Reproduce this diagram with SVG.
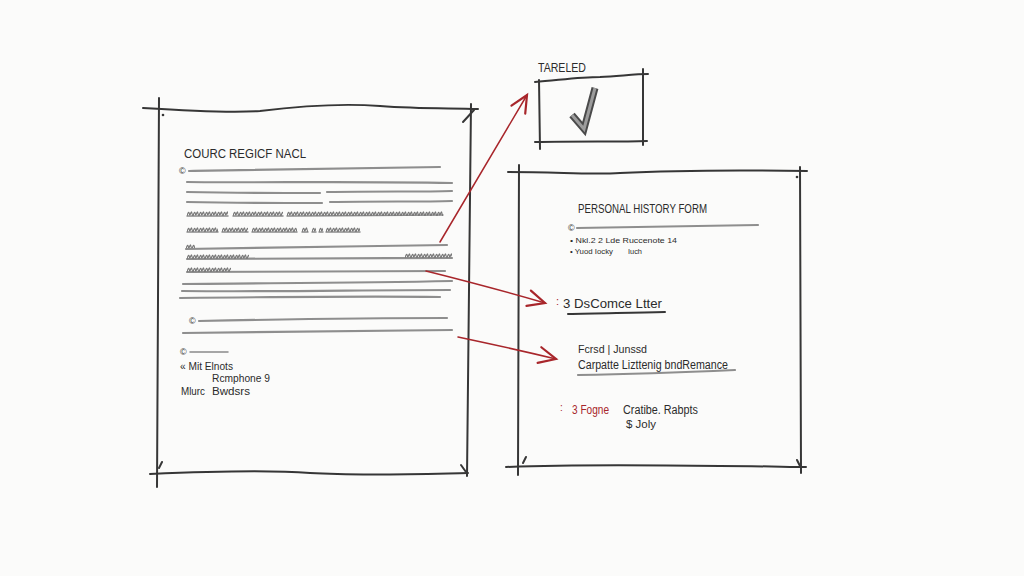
<svg xmlns="http://www.w3.org/2000/svg" width="1024" height="576" viewBox="0 0 1024 576">
<style>
.frame{fill:none;stroke:#363636;stroke-width:2;stroke-linecap:round;stroke-linejoin:round}
.rule{fill:none;stroke:#8e8e8e;stroke-width:2.2;stroke-linecap:round}
.thin{fill:none;stroke:#8a8a8a;stroke-width:1.5;stroke-linecap:round}
.red{fill:none;stroke:#a8262b;stroke-width:1.5;stroke-linecap:round}
.hand{font-family:"Liberation Sans","DejaVu Sans",sans-serif;fill:#2b2b2b}
.redt{font-family:"Liberation Sans","DejaVu Sans",sans-serif;fill:#a8262b}
.cur{fill:url(#cur)}
</style>
<defs>
<pattern id="cur" width="6" height="7" patternUnits="userSpaceOnUse">
<path d="M0 6 C1 2 2 1 2.5 4.5 C3 6.5 4 1 4.6 2 C5.2 4 5.6 6 6 6" fill="none" stroke="#777" stroke-width="1.1"/>
</pattern>
<marker id="chev" markerUnits="userSpaceOnUse" markerWidth="26" markerHeight="26" refX="21" refY="13" orient="auto" viewBox="0 0 26 26">
<path d="M4 5 L21 13 L4 21" fill="none" stroke="#a8262b" stroke-width="2.2" stroke-linecap="round" stroke-linejoin="miter"/>
</marker>
</defs>
<rect width="1024" height="576" fill="#fbfbfa"/>

<g id="course-record">
<path class="frame" d="M143 108 C190 111 230 113 260 111 C300 106 340 103 380 106 C420 109 450 108 478 109"/>
<path class="frame" d="M159 98 L158 300 L157 487"/>
<path class="frame" d="M471 104 C470 250 468 380 467 476"/>
<path class="frame" d="M463 122 L474 110"/>
<circle cx="163" cy="115" r="1.3" fill="#363636"/>
<path class="frame" d="M150 474 C220 471 270 470 310 473 C360 476 420 474 468 473"/>
<path class="frame" d="M159 468 L162 462"/>
<path class="frame" d="M461 465 L466 472"/>
<text class="hand" x="184" y="158" font-size="12" textLength="122" lengthAdjust="spacingAndGlyphs">COURC REGICF NACL</text>
<text class="hand" x="179" y="174" font-size="9" fill="#666">©</text>
<path class="rule" d="M189 171 C260 170 330 169 440 167"/>
<path class="rule" d="M187 182 C260 183 350 181 452 183"/>
<path class="rule" d="M187 192 C240 193 290 193 320 193 M327 192 C380 191 420 192 452 191"/>
<path class="rule" d="M187 202 C240 203 290 203 322 203 M330 202 C380 201 420 202 452 201"/>
<path class="thin" d="M187 216 L228 216 M233 216 L283 216 M287 216 C340 216 400 215 443 215"/>
<rect class="cur" transform="translate(187,210)" width="41" height="6"/>
<rect class="cur" transform="translate(233,210)" width="50" height="6"/>
<rect class="cur" transform="translate(287,210)" width="156" height="6"/>
<path class="thin" d="M187 232 L218 232 M222 232 L248 232 M252 232 L297 232 M302 232 L308 232 M312 232 L316 232 M319 232 L323 232 M326 232 L360 232"/>
<rect class="cur" transform="translate(187,226)" width="31" height="6"/>
<rect class="cur" transform="translate(222,226)" width="26" height="6"/>
<rect class="cur" transform="translate(252,226)" width="45" height="6"/>
<rect class="cur" transform="translate(302,226)" width="6" height="6"/>
<rect class="cur" transform="translate(312,226)" width="4" height="6"/>
<rect class="cur" transform="translate(319,226)" width="4" height="6"/>
<rect class="cur" transform="translate(326,226)" width="34" height="6"/>
<rect class="cur" transform="translate(186,243)" width="9" height="6"/>
<path class="rule" d="M186 249 C280 248 360 246 447 245"/>
<path class="rule" d="M187 259 C320 259 370 258 452 258"/>
<rect class="cur" transform="translate(187,253)" width="62" height="6"/>
<rect class="cur" transform="translate(405,252)" width="47" height="6"/>
<path class="rule" d="M187 272 C300 272 380 271 445 271"/>
<rect class="cur" transform="translate(187,266)" width="44" height="6"/>
<path class="rule" d="M183 284 C280 283 360 283 452 281"/>
<path class="rule" d="M182 291 C280 292 360 290 450 290"/>
<path class="rule" d="M180 298 C270 297 360 296 440 297"/>
<text class="hand" x="189" y="324" font-size="9" fill="#666">©</text>
<path class="rule" d="M199 321 C300 319 380 318 447 318"/>
<path class="rule" d="M183 333 C300 332 380 331 452 330"/>
<text class="hand" x="180" y="355" font-size="9" fill="#666">©</text>
<path class="thin" d="M190 352 L228 352"/>
<text class="hand" x="180" y="370" font-size="10" textLength="53" lengthAdjust="spacingAndGlyphs">« Mit Elnots</text>
<text class="hand" x="212" y="382" font-size="10" textLength="58" lengthAdjust="spacingAndGlyphs">Rcmphone 9</text>
<text class="hand" x="181" y="395" font-size="10" textLength="24" lengthAdjust="spacingAndGlyphs">Mlurc</text>
<text class="hand" x="212" y="395" font-size="10" textLength="38" lengthAdjust="spacingAndGlyphs">Bwdsrs</text>
</g>

<g id="tareled">
<text class="hand" x="538" y="72" font-size="13" textLength="48" lengthAdjust="spacingAndGlyphs">TARELED</text>
<path class="frame" d="M535 82 C560 80 580 77 600 77 C620 76 635 74 648 74"/>
<path class="frame" d="M539 80 L540 149"/>
<path class="frame" d="M643 69 L643 145"/>
<path class="frame" d="M535 142 C580 141 620 142 647 141"/>
<path d="M572 115 L584 129 L595 88" fill="none" stroke="#4a4a4a" stroke-width="7" stroke-linejoin="miter"/>
<path d="M572 115 L584 129 L595 88" fill="none" stroke="#9c9c9c" stroke-width="3" stroke-linejoin="miter"/>
</g>

<g id="personal-history-form">
<path class="frame" d="M508 172 C560 172 590 175 620 173 C680 170 740 170 807 171"/>
<path class="frame" d="M519 165 L518 475"/>
<path class="frame" d="M800 167 C801 300 800 400 801 473"/>
<path class="frame" d="M506 467 C580 464 650 465 720 466 C760 466 790 467 806 467"/>
<path class="frame" d="M523 463 L526 457"/>
<path class="frame" d="M797 460 L800 466"/>
<circle cx="797" cy="177" r="1.3" fill="#363636"/>
<text class="hand" x="578" y="213" font-size="13" textLength="129" lengthAdjust="spacingAndGlyphs">PERSONAL HISTORY FORM</text>
<text class="hand" x="568" y="231" font-size="9" fill="#555">©</text>
<path class="rule" d="M577 228 C650 227 710 226 758 225" stroke="#6e6e6e" stroke-width="1.8"/>
<text class="hand" x="570" y="243" font-size="7.5" textLength="107" lengthAdjust="spacingAndGlyphs">• Nkl.2 2 Lde Ruccenote 14</text>
<text class="hand" x="570" y="254" font-size="7.5" textLength="43" lengthAdjust="spacingAndGlyphs">• Yuod Iocky</text>
<text class="hand" x="628" y="254" font-size="7.5" textLength="14" lengthAdjust="spacingAndGlyphs">Iuch</text>
<text class="redt" x="556" y="305" font-size="11">:</text>
<text class="hand" x="563" y="308" font-size="13" textLength="99" lengthAdjust="spacingAndGlyphs">3 DsComce Ltter</text>
<path class="frame" d="M568 314 C600 313 630 313 665 312" stroke="#2f2f2f"/>
<text class="hand" x="578" y="353" font-size="11" textLength="69" lengthAdjust="spacingAndGlyphs">Fcrsd | Junssd</text>
<text class="hand" x="578" y="369" font-size="12" textLength="150" lengthAdjust="spacingAndGlyphs">Carpatte Lizttenig bndRemance</text>
<path class="rule" d="M578 375 C640 374 690 372 735 370" stroke="#6a6a6a" stroke-width="1.8"/>
<text class="redt" x="560" y="411" font-size="10">:</text>
<text class="redt" x="572" y="414" font-size="13" textLength="37" lengthAdjust="spacingAndGlyphs">3 Fogne</text>
<text class="hand" x="623" y="414" font-size="12" textLength="75" lengthAdjust="spacingAndGlyphs">Cratibe. Rabpts</text>
<text class="hand" x="626" y="428" font-size="11.5">$ Joly</text>
</g>

<g id="connectors">
<path class="red" d="M440 242 L527 95" marker-end="url(#chev)"/>
<path class="red" d="M426 271 Q490 287 545 303" marker-end="url(#chev)"/>
<path class="red" d="M458 337 Q510 348 556 359" marker-end="url(#chev)"/>
</g>
</svg>
